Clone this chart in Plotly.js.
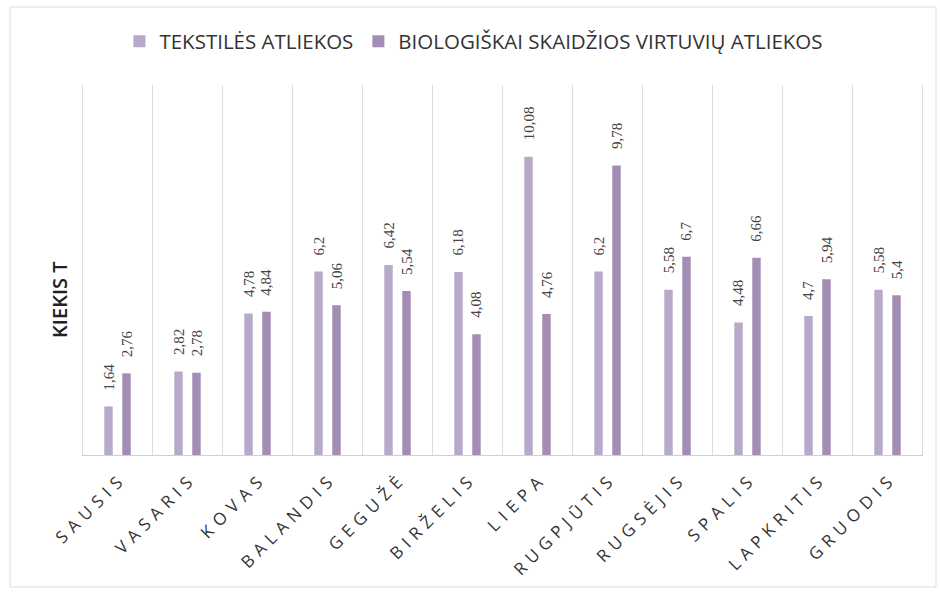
<!DOCTYPE html>
<html>
<head>
<meta charset="utf-8">
<script src="https://cdn.plot.ly/plotly-3.0.1.min.js"></script>
<style>
html,body{margin:0;padding:0;background:#fff;}
#chart{width:940px;height:593px;}
</style>
</head>
<body>
<div id="chart"></div>
<script>
const months = ["SAUSIS","VASARIS","KOVAS","BALANDIS","GEGUŽĖ","BIRŽELIS","LIEPA","RUGPJŪTIS","RUGSĖJIS","SPALIS","LAPKRITIS","GRUODIS"];
const textile = [1.64, 2.82, 4.78, 6.2, 6.42, 6.18, 10.08, 6.2, 5.58, 4.48, 4.7, 5.58];
const kitchen = [2.76, 2.78, 4.84, 5.06, 5.54, 4.08, 4.76, 9.78, 6.7, 6.66, 5.94, 5.4];
const seriesNames = ["TEKSTILĖS ATLIEKOS", "BIOLOGIŠKAI SKAIDŽIOS VIRTUVIŲ ATLIEKOS"];
const yTitle = "KIEKIS T";

const fmt = v => String(v).replace('.', ',');
const colors = ['#b7a9c9', '#a48db4'];
const labelFont = {family: "Liberation Serif, serif", size: 15, color: "#444"};

const traces = [
  {type: 'bar', name: seriesNames[0], x: months, y: textile, marker: {color: colors[0]}, hoverinfo: 'none'},
  {type: 'bar', name: seriesNames[1], x: months, y: kitchen, marker: {color: colors[1]}, hoverinfo: 'none'}
];

const annotations = [];
[textile, kitchen].forEach((vals, k) => {
  vals.forEach((v, i) => {
    annotations.push({
      xref: 'x', yref: 'y', x: months[i], y: v, text: fmt(v), showarrow: false,
      textangle: -90, xanchor: 'center', yanchor: 'bottom',
      xshift: k === 0 ? -9 : 9, yshift: 14, font: labelFont
    });
  });
});
annotations.push({
  xref: 'paper', yref: 'paper', x: -0.027, y: 0.42, text: yTitle, showarrow: false,
  textangle: -90, xanchor: 'center', yanchor: 'middle',
  font: {family: "Open Sans, sans-serif", size: 20, color: '#222', weight: 600}
});

const layout = {
  width: 940, height: 593,
  margin: {l: 82, r: 17, t: 85, b: 138},
  paper_bgcolor: '#fff', plot_bgcolor: '#fff',
  barmode: 'group', bargap: 0.486, bargroupgap: 0.53,
  showlegend: true,
  legend: {orientation: 'h', x: 0.466, xanchor: 'center', y: 1.118, yanchor: 'middle',
    font: {family: "Open Sans, sans-serif", size: 20.5, color: '#333'}, traceorder: 'normal'},
  xaxis: {
    tickangle: -45, tickfont: {family: "Open Sans, sans-serif", size: 17, color: '#333'},
    showgrid: false, showline: true, linecolor: '#d0d0d0', ticks: '', ticklabelstandoff: 10
  },
  yaxis: {
    range: [0, 12.5], showticklabels: false, showgrid: false, zeroline: false, ticks: ''
  },
  annotations: annotations,
  shapes: [],
  font: {family: "Open Sans, sans-serif"}
};

for (let i = 0; i <= months.length; i++) {
  layout.shapes.push({type: 'line', xref: 'x', yref: 'paper', x0: i - 0.5, x1: i - 0.5, y0: 0, y1: 1,
    line: {color: '#dcdcdc', width: 1}, layer: 'below'});
}
layout.shapes.push({type: 'rect', xref: 'paper', yref: 'paper',
  x0: -72 / 841, x1: 1 + 13 / 841, y0: -132 / 370, y1: 1 + 78 / 370,
  line: {color: '#dddddd', width: 1}});

Plotly.newPlot('chart', traces, layout, {displayModeBar: false, staticPlot: true}).then(gd => {
  gd.querySelectorAll('.xtick text').forEach(t => {
    const n = (t.textContent || '').length;
    const L = t.getComputedTextLength();
    t.setAttribute('lengthAdjust', 'spacing');
    t.setAttribute('textLength', String(L + 5 * n));
  });
});
</script>
</body>
</html>
